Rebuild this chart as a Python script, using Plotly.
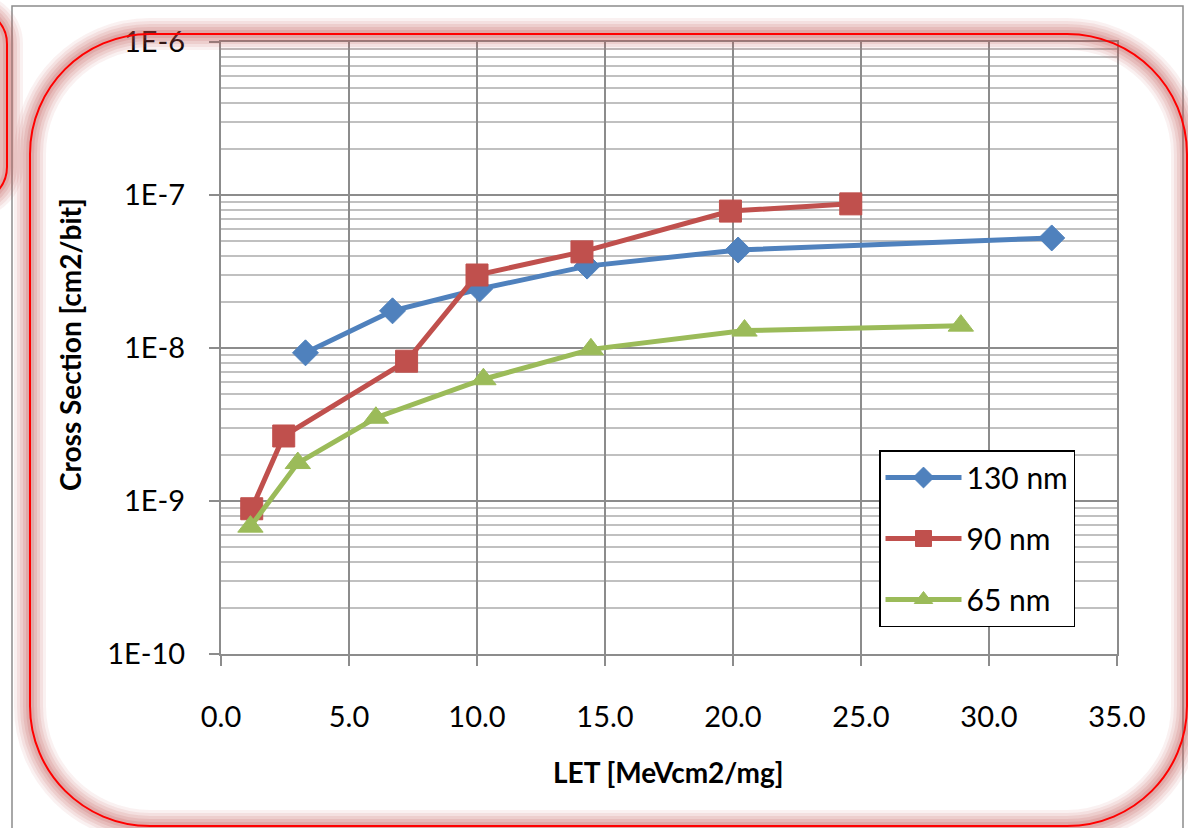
import plotly.graph_objects as go

# ---- data ----
let_130 = [3.3, 6.7, 10.1, 14.3, 20.2, 32.45]
xs_130 = [9.3e-9, 1.75e-8, 2.43e-8, 3.43e-8, 4.37e-8, 5.24e-8]
let_90 = [1.2, 2.45, 7.25, 10.0, 14.1, 19.9, 24.6]
xs_90 = [8.9e-10, 2.66e-9, 8.2e-9, 3.0e-8, 4.25e-8, 7.85e-8, 8.75e-8]
let_65 = [1.15, 3.0, 6.05, 10.25, 14.45, 20.45, 28.9]
xs_65 = [6.8e-10, 1.77e-9, 3.5e-9, 6.25e-9, 9.8e-9, 1.3e-8, 1.4e-8]
series_names = ["130 nm", "90 nm", "65 nm"]
x_ticks = [0, 5, 10, 15, 20, 25, 30, 35]
y_tickvals = [1e-10, 1e-9, 1e-8, 1e-7, 1e-6]
y_ticktext = ["1E-10", "1E-9", "1E-8", "1E-7", "1E-6"]

W, H = 1188, 828
L, R, T, B = 221, 1117, 42, 654

def px(X):
    return (X - L) / (R - L)

def py(Y):
    return (B - Y) / (B - T)

def rrect_path(x0, y0, x1, y1, r):
    k = 0.5523 * r
    def p(X, Y):
        return f"{px(X):.5f},{py(Y):.5f}"
    s = f"M{p(x0 + r, y0)} L{p(x1 - r, y0)} "
    s += f"C{p(x1 - r + k, y0)} {p(x1, y0 + r - k)} {p(x1, y0 + r)} "
    s += f"L{p(x1, y1 - r)} "
    s += f"C{p(x1, y1 - r + k)} {p(x1 - r + k, y1)} {p(x1 - r, y1)} "
    s += f"L{p(x0 + r, y1)} "
    s += f"C{p(x0 + r - k, y1)} {p(x0, y1 - r + k)} {p(x0, y1 - r)} "
    s += f"L{p(x0, y0 + r)} "
    s += f"C{p(x0, y0 + r - k)} {p(x0 + r - k, y0)} {p(x0 + r, y0)} Z"
    return s

minor_vals = [m * 10.0 ** e for e in range(-10, -6) for m in range(2, 10)]

fig = go.Figure()
colors = ["#4F81BD", "#C0504D", "#9BBB59"]
symbols = ["diamond", "square", "triangle-up"]
sizes = [20, 22, 22]
for i, (xv, yv) in enumerate([(let_130, xs_130), (let_90, xs_90), (let_65, xs_65)]):
    fig.add_trace(go.Scatter(
        x=xv, y=yv, mode="lines+markers", name=series_names[i],
        legendgroup=f"g{i}",
        line=dict(color=colors[i], width=5),
        marker=dict(symbol=symbols[i], size=sizes[i], color=colors[i],
                    line=dict(color=colors[i], width=1)),
    ))

shapes = []
# outer gray frame
shapes.append(dict(type="rect", xref="paper", yref="paper",
                   x0=px(12), x1=px(1183), y0=py(6), y1=py(845),
                   line=dict(color="#8c8c8c", width=1.5), layer="below"))
# glow + red rounded rectangles
for path in [rrect_path(30, 34, 1187, 826, 120), rrect_path(-160, 9, 7, 202, 35)]:
    for w, a in [(32, 0.08), (26, 0.1), (20, 0.12), (14, 0.14), (8, 0.17)]:
        shapes.append(dict(type="path", xref="paper", yref="paper", path=path,
                           line=dict(color=f"rgba(192,80,77,{a})", width=w),
                           layer="above"))
    shapes.append(dict(type="path", xref="paper", yref="paper", path=path,
                       line=dict(color="#FF0000", width=2), layer="above"))

annotations = [
    dict(text="<b>LET [MeVcm2/mg]</b>", xref="paper", yref="paper",
         x=px(668), y=py(772), xanchor="center", yanchor="middle", showarrow=False,
         font=dict(family="Lato", size=28, color="#000")),
    dict(text="<b>Cross Section [cm2/bit]</b>", xref="paper", yref="paper",
         x=px(70), y=py(345), xanchor="center", yanchor="middle",
         showarrow=False, textangle=-90,
         font=dict(family="Lato", size=28, color="#000")),
]

fig.update_layout(
    width=W, height=H,
    margin=dict(l=L, r=W - R, t=T, b=H - B, pad=0),
    paper_bgcolor="white", plot_bgcolor="white",
    font=dict(family="Lato", size=29, color="#000"),
    showlegend=True,
    legend=dict(x=px(879), y=py(450), xanchor="left", yanchor="top",
                bgcolor="white", bordercolor="#000", borderwidth=1.5,
                font=dict(family="Lato", size=30, color="#000"),
                tracegroupgap=19, itemwidth=76),
    shapes=shapes, annotations=annotations,
)
fig.update_xaxes(range=[0, 35], tickvals=x_ticks, tickformat=".1f",
                 showgrid=True, gridcolor="#8c8c8c", gridwidth=2,
                 showline=True, linecolor="#8c8c8c", linewidth=2, mirror=True,
                 ticks="outside", ticklen=10, tickcolor="#8c8c8c", tickwidth=2,
                 ticklabelstandoff=26, zeroline=False)
fig.update_yaxes(type="log", range=[-10, -6], tickvals=y_tickvals, ticktext=y_ticktext,
                 showgrid=True, gridcolor="#8c8c8c", gridwidth=2,
                 showline=True, linecolor="#8c8c8c", linewidth=2, mirror=True,
                 ticks="outside", ticklen=10, tickcolor="#8c8c8c", tickwidth=2,
                 ticklabelstandoff=18,
                 minor=dict(tickvals=minor_vals, showgrid=True, gridcolor="#c0c0c0",
                            gridwidth=1.5, ticks=""))

fig.write_html("out.html", config={"displayModeBar": False},
               post_script="document.body.style.margin='0';document.body.style.overflow='hidden';")
